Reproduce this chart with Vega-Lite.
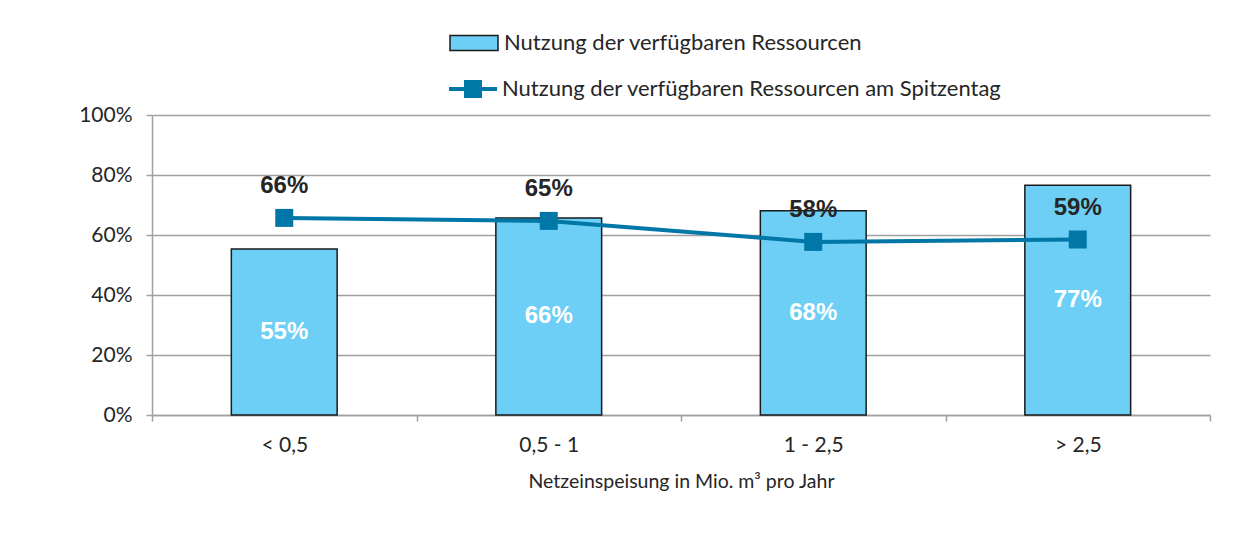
{
  "$schema": "https://vega.github.io/schema/vega-lite/v6.json",
  "width": 1058,
  "height": 300,
  "autosize": {"type": "none"},
  "padding": {"left": 152, "top": 115, "right": 43, "bottom": 120},
  "background": "white",
  "config": {
    "view": {"stroke": null},
    "font": "Lato",
    "axis": {"labelFont": "Lato", "titleFont": "Lato", "labelColor": "#262626", "titleColor": "#262626"}
  },
  "data": {
    "values": [
      {"cat": "< 0,5", "bar": 0.553, "line": 0.657},
      {"cat": "0,5 - 1", "bar": 0.657, "line": 0.647},
      {"cat": "1 - 2,5", "bar": 0.681, "line": 0.577},
      {"cat": "> 2,5", "bar": 0.766, "line": 0.585}
    ]
  },
  "encoding": {
    "x": {
      "field": "cat", "type": "nominal", "sort": null,
      "scale": {"paddingInner": 0, "paddingOuter": 0},
      "axis": {
        "title": "Netzeinspeisung in Mio. m³ pro Jahr",
        "labelAngle": 0, "labelFontSize": 21, "labelPadding": 13,
        "titleFontSize": 19.5, "titleFontWeight": "normal", "titlePadding": 17,
        "tickBand": "extent", "tickSize": 6, "tickColor": "#a0a0a0", "tickWidth": 1.5,
        "domainColor": "#a0a0a0", "domainWidth": 1.5, "grid": false
      }
    }
  },
  "layer": [
    {
      "mark": {"type": "bar", "width": {"band": 0.4}, "stroke": "#1a1a1a", "strokeWidth": 1.5},
      "encoding": {
        "y": {
          "field": "bar", "type": "quantitative",
          "scale": {"domain": [0, 1], "nice": false},
          "axis": {
            "title": null, "format": ".0%", "values": [0, 0.2, 0.4, 0.6, 0.8, 1],
            "labelFontSize": 21, "labelPadding": 14, "tickSize": 6,
            "tickColor": "#a0a0a0", "tickWidth": 1.5, "domainColor": "#a0a0a0", "domainWidth": 1.5,
            "gridColor": "#a0a0a0", "gridWidth": 1.5
          }
        },
        "fill": {
          "datum": "Nutzung der verfügbaren Ressourcen",
          "scale": {"range": ["#6dcff6"]},
          "legend": {
            "title": null, "orient": "none", "legendX": 297, "legendY": -97, "padding": 0,
            "labelFont": "Lato", "labelFontSize": 22, "labelColor": "#262626", "labelOffset": 5, "labelLimit": 0,
            "symbolType": "M-1,-0.3125H1V0.3125H-1Z", "symbolSize": 2304,
            "symbolStrokeColor": "#1a1a1a", "symbolStrokeWidth": 1.5, "symbolFillColor": "#6dcff6"
          }
        }
      }
    },
    {
      "mark": {"type": "text", "font": "Liberation Sans", "fontWeight": "bold", "fontSize": 24, "color": "white", "baseline": "middle"},
      "encoding": {
        "y": {"field": "bar", "type": "quantitative", "scale": {"domain": [0, 2], "nice": false}, "axis": null},
        "text": {"field": "bar", "type": "quantitative", "format": ".0%"}
      }
    },
    {
      "mark": {"type": "line", "strokeWidth": 4},
      "encoding": {
        "y": {"field": "line", "type": "quantitative", "scale": {"domain": [0, 1], "nice": false}, "axis": null},
        "stroke": {
          "datum": "Nutzung der verfügbaren Ressourcen am Spitzentag",
          "scale": {"range": ["#0077a6"]},
          "legend": {
            "title": null, "orient": "none", "legendX": 297, "legendY": -50, "padding": 0,
            "labelFont": "Lato", "labelFontSize": 22, "labelColor": "#262626", "labelOffset": 5, "labelLimit": 0,
            "symbolType": "M-1,-0.083H-0.375V-0.375H0.375V-0.083H1V0.083H0.375V0.375H-0.375V0.083H-1Z",
            "symbolSize": 2304, "symbolStrokeWidth": 0, "symbolFillColor": "#0077a6"
          }
        }
      }
    },
    {
      "mark": {"type": "point", "shape": "square", "size": 324, "filled": true, "color": "#0077a6", "opacity": 1},
      "encoding": {
        "y": {"field": "line", "type": "quantitative", "scale": {"domain": [0, 1], "nice": false}, "axis": null}
      }
    },
    {
      "mark": {"type": "text", "font": "Liberation Sans", "fontWeight": "bold", "fontSize": 24, "color": "#262626", "baseline": "middle", "dy": -32},
      "encoding": {
        "y": {"field": "line", "type": "quantitative", "scale": {"domain": [0, 1], "nice": false}, "axis": null},
        "text": {"field": "line", "type": "quantitative", "format": ".0%"}
      }
    }
  ],
  "resolve": {"scale": {"y": "independent", "fill": "independent", "stroke": "independent"}}
}
